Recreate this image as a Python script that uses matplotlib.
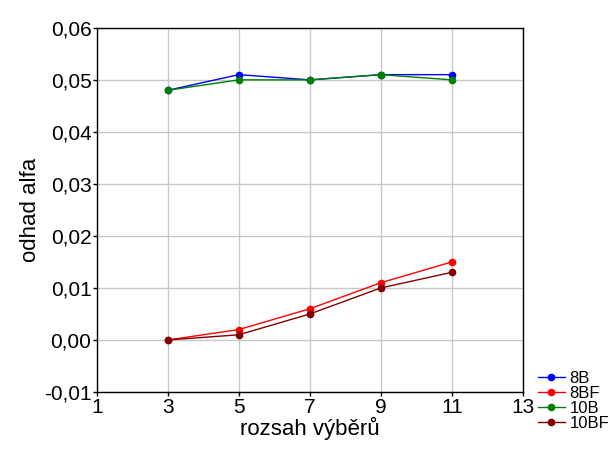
import matplotlib
matplotlib.use('Agg')
import matplotlib.pyplot as plt
from matplotlib.ticker import FuncFormatter

plt.rcParams['font.family'] = ['Liberation Sans', 'DejaVu Sans']

# data
x = [3, 5, 7, 9, 11]
b8 = [0.048, 0.051, 0.050, 0.051, 0.051]
bf8 = [0.000, 0.002, 0.006, 0.011, 0.015]
b10 = [0.048, 0.050, 0.050, 0.051, 0.050]
bf10 = [0.000, 0.001, 0.005, 0.010, 0.013]
labels = ['8B', '8BF', '10B', '10BF']
colors = ['#0000ff', '#ff0000', '#008000', '#800000']
xticks = [1, 3, 5, 7, 9, 11, 13]
yticks = [-0.01, 0.0, 0.01, 0.02, 0.03, 0.04, 0.05, 0.06]

fig = plt.figure(figsize=(6.10, 4.49), dpi=100)
ax = fig.add_axes([0.159, 0.127, 0.698, 0.811])

lines = []
for ys, lab, c in zip([b8, bf8, b10, bf10], labels, colors):
    ln, = ax.plot(x, ys, color=c, lw=1, marker='o', ms=4.5, label=lab)
    lines.append(ln)

ax.set_xlim(1, 13)
ax.set_ylim(-0.01, 0.06)
ax.set_xticks(xticks)
ax.set_yticks(yticks)
ax.yaxis.set_major_formatter(FuncFormatter(lambda v, p: f'{v:.2f}'.replace('.', ',').replace('-0,00', '0,00')))
ax.grid(True, color='#c8c8c8', lw=1)
ax.set_axisbelow(True)
ax.tick_params(labelsize=15, length=3, width=1, pad=1)
for s in ax.spines.values():
    s.set_linewidth(1)

ax.set_xlabel('rozsah výběrů', fontsize=16, labelpad=0)
ax.set_ylabel('odhad alfa', fontsize=16, labelpad=2)

fig.legend(lines, labels, loc='lower left', bbox_to_anchor=(0.882, 0.04),
           frameon=False, fontsize=12, handlelength=1.6, handletextpad=0.3,
           labelspacing=0.0, borderaxespad=0.0, borderpad=0.0)

fig.savefig('out.png', dpi=100)
